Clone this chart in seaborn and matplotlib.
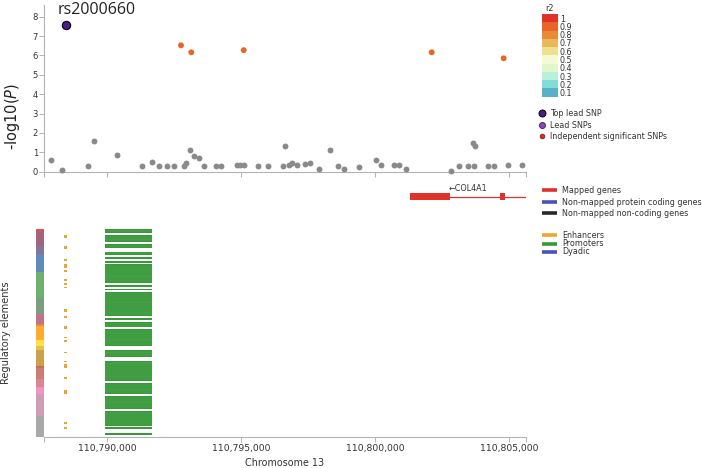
import numpy as np
import pandas as pd
import matplotlib
matplotlib.use("Agg")
import matplotlib.pyplot as plt
from matplotlib.colors import ListedColormap
from matplotlib.lines import Line2D
import seaborn as sns

# ------------------------------------------------------------------ data
CHROM_LABEL = "Chromosome 13"
VIEW_START, VIEW_END = 110787629, 110805627
X_TICKS = [110790000, 110795000, 110800000, 110805000]

TOP_LEAD_ID = "rs2000660"
TOP_LEAD_POS = [110788462]
TOP_LEAD_LOGP = [7.56]

SIG_POS = [110792745, 110793129, 110795086, 110802106, 110804794]
SIG_LOGP = [6.52, 6.16, 6.27, 6.16, 5.85]
SIG_R2 = ["0.9", "0.9", "0.9", "0.9", "0.9"]

GREY_POS = [110787902, 110788301, 110789272, 110789496, 110790366, 110791288,
            110791673, 110791923, 110792211, 110792483, 110792845, 110792942,
            110793081, 110793241, 110793417, 110793592, 110794063, 110794238,
            110794824, 110794936, 110795108, 110795631, 110796004, 110796542,
            110796628, 110796766, 110796900, 110797065, 110797386, 110797550,
            110797897, 110798297, 110798596, 110798820, 110799402, 110800037,
            110800224, 110800687, 110800896, 110801146, 110802826, 110803114,
            110803472, 110803637, 110803685, 110803734, 110804208, 110804443,
            110804943, 110805466]
GREY_LOGP = [0.62, 0.10, 0.31, 1.60, 0.84, 0.31,
             0.50, 0.31, 0.31, 0.31, 0.31, 0.45,
             1.12, 0.81, 0.71, 0.31, 0.31, 0.31,
             0.33, 0.33, 0.33, 0.31, 0.29, 0.31,
             1.33, 0.33, 0.43, 0.36, 0.40, 0.46,
             0.14, 1.10, 0.31, 0.14, 0.22, 0.60,
             0.33, 0.33, 0.33, 0.14, 0.02, 0.31,
             0.31, 1.48, 0.31, 1.34, 0.29, 0.28,
             0.36, 0.34]

R2_LABELS = ["1", "0.9", "0.8", "0.7", "0.6", "0.5", "0.4", "0.3", "0.2", "0.1"]
R2_COLORS = ["#e0312a", "#e8652a", "#e98b36", "#e7b95c", "#ede08f",
             "#f6f9d6", "#e2f7c8", "#b8f0dd", "#84dcd7", "#5cafc6"]

GENE_NAME = "COL4A1"
GENE_START, GENE_END = 110801295, 110959496
EXON_START = [110801295, 110804656]
EXON_END = [110802789, 110804843]

GROUP_NAMES = ["Selected", "ESC", "iPSC", "ES-deriv", "Blood & T-cell", "HSC & B-cell",
               "Mesench", "Myosat", "Epithelial", "Neurosph", "Thymus", "Brain",
               "Adipose", "Muscle", "Heart", "Sm. Muscle", "Digestive", "Other"]
GROUP_COUNTS = [1, 8, 5, 9, 14, 9, 5, 1, 8, 3, 2, 9, 1, 6, 4, 4, 12, 11]
GROUP_COLORS = ["#e3342a", "#924965", "#69608A", "#4178AE", "#55A354", "#678C69",
                "#B65C73", "#E67326", "#FF9D0C", "#FFD924", "#DAB92E", "#C5912B",
                "#AF5B39", "#C2655D", "#D56F80", "#F182BC", "#C58DAA", "#999999"]

PROM_START, PROM_END = 110789918, 110791662
PROMOTER_ROW_SPANS = [(0, 2), (3, 7), (8, 10), (12, 14), (15, 16), (17, 18), (19, 29),
                      (30, 31), (32, 33), (34, 47), (48, 49), (50, 53), (54, 63),
                      (65, 69), (71, 82), (83, 89), (90, 97), (98, 106), (107, 108),
                      (110, 111)]
ENH_START, ENH_END = 110788370, 110788500
ENHANCER_ROWS = [3, 4, 9, 10, 16, 19, 20, 22, 27, 29, 31, 43, 44, 47, 52, 53, 58, 60,
                 66, 71, 73, 74, 80, 87, 88, 104, 107]

# colours
GREY = "#8a8a8a"
TOP_LEAD_COLOR = "#4b1c8c"
MAPPED_RED = "#e0312a"
ENH_COLOR = "#eca62c"
PROM_COLOR = "#38993a"
DYADIC_COLOR = "#4a50c0"
SPINE = "#b3b3b3"
TXT = "#333333"

# ------------------------------------------------------------------ style
sns.set_style("ticks")
plt.rcParams["font.family"] = ["DejaVu Sans"]
plt.rcParams["axes.edgecolor"] = SPINE

W, H = 702, 468
fig = plt.figure(figsize=(W / 100, H / 100), dpi=100)


def box(x0, y0, x1, y1):
    return [x0 / W, 1 - y1 / H, (x1 - x0) / W, (y1 - y0) / H]


ax_top = fig.add_axes(box(44, 5, 526, 171.7))
ax_gene = fig.add_axes(box(44, 180, 526, 213.2))
ax_reg = fig.add_axes(box(44, 229.3, 526, 436.7))
ax_strip = fig.add_axes(box(36, 229.3, 44, 436.7))
ax_r2 = fig.add_axes(box(541.7, 14, 557.7, 96.7))

# ------------------------------------------------------------------ top: SNPs
grey_df = pd.DataFrame({"pos": GREY_POS, "logp": GREY_LOGP})
sig_df = pd.DataFrame({"pos": SIG_POS, "logp": SIG_LOGP, "r2": SIG_R2})
lead_df = pd.DataFrame({"pos": TOP_LEAD_POS, "logp": TOP_LEAD_LOGP})
r2_pal = dict(zip(R2_LABELS, R2_COLORS))

sns.scatterplot(data=grey_df, x="pos", y="logp", ax=ax_top, color=GREY, s=18,
                linewidth=0, clip_on=False, zorder=3)
sns.scatterplot(data=sig_df, x="pos", y="logp", hue="r2", palette=r2_pal, ax=ax_top,
                s=18, linewidth=0, legend=False, clip_on=False, zorder=3)
sns.scatterplot(data=lead_df, x="pos", y="logp", ax=ax_top, color=TOP_LEAD_COLOR, s=36,
                edgecolor="black", linewidth=0.8, clip_on=False, zorder=4)
ax_top.annotate(TOP_LEAD_ID, xy=(TOP_LEAD_POS[0], TOP_LEAD_LOGP[0]),
                xytext=(-6.2, 8.1), textcoords="offset points", ha="left", va="baseline",
                fontsize=11.5, family=["Open Sans", "DejaVu Sans"], color="#222222")

ax_top.set_xlim(VIEW_START, VIEW_END)
ax_top.set_ylim(0, 8.6)
ax_top.set_yticks(range(0, 9))
ax_top.set_xticks(X_TICKS)
ax_top.set_xticks([VIEW_START, VIEW_END], minor=True)
ax_top.set_xticklabels([])
ax_top.tick_params(axis="x", which="both", length=3.6, width=0.7, color=SPINE)
ax_top.tick_params(axis="y", length=3.3, width=0.7, color=SPINE, labelsize=6,
                   labelcolor=TXT, pad=1)
for s in ["top", "right"]:
    ax_top.spines[s].set_visible(False)
for s in ["left", "bottom"]:
    ax_top.spines[s].set_color(SPINE)
    ax_top.spines[s].set_linewidth(0.8)
ax_top.set_xlabel("")
ax_top.set_ylabel(r"-log10($\it{P}$)", fontsize=10.5, color="#222222")
ax_top.yaxis.set_label_coords((12 - 44) / 482, (171.7 - 116) / 166.7)
ax_top.yaxis.label.set_verticalalignment("center")
ax_top.yaxis.label.set_horizontalalignment("center")

# ------------------------------------------------------------------ gene track
ax_gene.set_xlim(VIEW_START, VIEW_END)
ax_gene.set_ylim(-1, 1)
ax_gene.axis("off")
ax_gene.hlines(0, GENE_START, GENE_END, color=MAPPED_RED, lw=0.9)
ax_gene.barh([0] * len(EXON_START), np.subtract(EXON_END, EXON_START), left=EXON_START,
             height=0.45, color=MAPPED_RED, linewidth=0)
vis_mid = (max(GENE_START, VIEW_START) + min(GENE_END, VIEW_END)) / 2
ax_gene.text(vis_mid, 0.46, "\u2190" + GENE_NAME, ha="center", va="center",
             fontsize=5.8, color=TXT)

# ------------------------------------------------------------------ regulatory
n_rows = sum(GROUP_COUNTS)
span_start = np.array([a for a, b in PROMOTER_ROW_SPANS])
span_len = np.array([b - a for a, b in PROMOTER_ROW_SPANS])
ax_reg.barh(span_start, PROM_END - PROM_START, left=PROM_START, height=span_len,
            align="edge", color=PROM_COLOR, linewidth=0)
# faint separators between rows inside the promoter blocks
prom_rows = [r for a, b in PROMOTER_ROW_SPANS for r in range(a + 1, b)]
ax_reg.hlines(prom_rows, PROM_START, PROM_END, color="#5fb060", lw=0.3)
ax_reg.barh(ENHANCER_ROWS, ENH_END - ENH_START, left=ENH_START, height=0.9,
            align="edge", color=ENH_COLOR, linewidth=0)
ax_reg.set_xlim(VIEW_START, VIEW_END)
ax_reg.set_ylim(n_rows, 0)
ax_reg.set_yticks([])
ax_reg.set_xticks(X_TICKS)
ax_reg.set_xticklabels([f"{t:,}" for t in X_TICKS])
ax_reg.set_xticks([VIEW_START, VIEW_END], minor=True)
ax_reg.tick_params(axis="x", which="both", length=3.6, width=0.7, color=SPINE,
                   labelsize=6.7, labelcolor=TXT, pad=1.8)
for s in ["top", "right", "left"]:
    ax_reg.spines[s].set_visible(False)
ax_reg.spines["bottom"].set_color(SPINE)
ax_reg.spines["bottom"].set_linewidth(0.8)
ax_reg.set_xlabel(CHROM_LABEL, fontsize=6.9, color=TXT)
ax_reg.xaxis.set_label_coords(0.5, (436.7 - 463) / 207.4)
ax_reg.xaxis.label.set_verticalalignment("center")
ax_reg.set_ylabel("Regulatory elements", fontsize=7.1, color=TXT)
ax_reg.yaxis.set_label_coords((6 - 44) / 482, 0.5)
ax_reg.yaxis.label.set_verticalalignment("center")
ax_reg.yaxis.label.set_horizontalalignment("center")

group_idx = np.repeat(np.arange(len(GROUP_NAMES)), GROUP_COUNTS).reshape(-1, 1)
sns.heatmap(group_idx, ax=ax_strip, cmap=ListedColormap(GROUP_COLORS),
            vmin=-0.5, vmax=len(GROUP_NAMES) - 0.5, cbar=False,
            xticklabels=False, yticklabels=False, alpha=0.85)
ax_strip.set_xlabel("")
ax_strip.set_ylabel("")

# ------------------------------------------------------------------ r2 legend
sns.heatmap(np.arange(len(R2_LABELS)).reshape(-1, 1), ax=ax_r2,
            cmap=ListedColormap(R2_COLORS), vmin=-0.5, vmax=len(R2_LABELS) - 0.5,
            cbar=False, xticklabels=False, yticklabels=R2_LABELS)
ax_r2.yaxis.tick_right()
ax_r2.tick_params(axis="y", length=0, labelsize=5.8, pad=1.5, labelcolor=TXT,
                  labelrotation=0)
ax_r2.set_title("r2", fontsize=5.8, pad=2.5, color=TXT)

snp_handles = [
    Line2D([], [], marker="o", ls="", markersize=5.0, markerfacecolor=TOP_LEAD_COLOR,
           markeredgecolor="black", markeredgewidth=0.7),
    Line2D([], [], marker="o", ls="", markersize=4.4, markerfacecolor="#8a47c2",
           markeredgecolor="#3a1a5a", markeredgewidth=0.6),
    Line2D([], [], marker="o", ls="", markersize=3.4, markerfacecolor="#d7301f",
           markeredgecolor="#5a1a10", markeredgewidth=0.5),
]
fig.legend(snp_handles, ["Top lead SNP", "Lead SNPs", "Independent significant SNPs"],
           loc="upper left", bbox_to_anchor=(539.6 / W, 1 - 109.3 / H), frameon=False,
           fontsize=5.8, handlelength=0.5, handletextpad=0.8, labelspacing=0.3,
           borderpad=0, borderaxespad=0, labelcolor=TXT)

gene_handles = [Line2D([], [], color=c, lw=2.6, solid_capstyle="butt")
                for c in [MAPPED_RED, DYADIC_COLOR, "#2a2a2a"]]
fig.legend(gene_handles, ["Mapped genes", "Non-mapped protein coding genes",
                          "Non-mapped non-coding genes"],
           loc="upper left", bbox_to_anchor=(541.7 / W, 1 - 186 / H), frameon=False,
           fontsize=5.8, handlelength=1.94, handletextpad=0.55, labelspacing=0.32,
           borderpad=0, borderaxespad=0, labelcolor=TXT)

reg_handles = [Line2D([], [], color=c, lw=2.6, solid_capstyle="butt")
               for c in [ENH_COLOR, PROM_COLOR, DYADIC_COLOR]]
fig.legend(reg_handles, ["Enhancers", "Promoters", "Dyadic"],
           loc="upper left", bbox_to_anchor=(541.7 / W, 1 - 231.3 / H), frameon=False,
           fontsize=5.8, handlelength=1.94, handletextpad=0.55, labelspacing=-0.12,
           borderpad=0, borderaxespad=0, labelcolor=TXT)

fig.savefig("out.png", dpi=100)
